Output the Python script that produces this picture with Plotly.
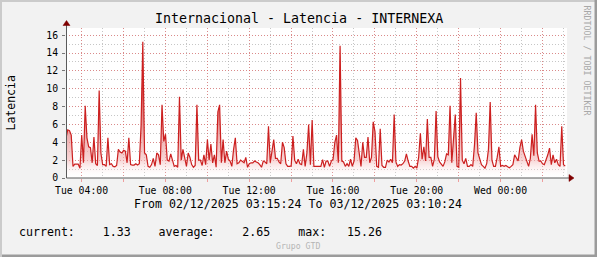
import pandas as pd
import plotly.graph_objects as go

# ---------------- data (5-minute samples, latency) ----------------
values = [
    4.5, 5.4, 5.3, 4.8, 1.3, 1.55, 1.55, 1.55, 1.1, 4.8,
    1.7, 8.1, 4.5, 3.5, 3.4, 1.7, 4.6, 1.6, 1.4, 9.8,
    2.8, 1.5, 1.5, 1.3, 4.5, 1.5, 1.6, 1.3, 1.25, 1.4,
    3.2, 2.9, 2.8, 3.1, 3.0, 1.7, 4.5, 1.5, 1.45, 1.45,
    1.6, 1.45, 1.6, 5.85, 15.26, 2.8, 2.6, 1.3, 1.2, 1.5,
    2.2, 1.3, 2.8, 2.6, 1.5, 8.2, 4.1, 4.9, 2.0, 1.9,
    2.7, 1.9, 1.3, 1.4, 1.2, 9.1, 2.0, 3.2, 2.4, 1.3,
    2.8, 2.3, 1.5, 1.2, 1.4, 8.2, 2.0, 2.0, 1.4, 2.6,
    1.5, 4.3, 2.0, 3.8, 1.7, 2.6, 1.2, 7.4, 8.2, 1.7,
    4.3, 1.7, 3.0, 2.1, 1.9, 1.3, 3.2, 4.5, 1.6, 1.7,
    2.0, 1.8, 1.7, 2.3, 1.2, 1.6, 1.7, 1.7, 1.9, 1.8,
    1.7, 1.5, 1.2, 1.9, 1.8, 1.6, 5.8, 1.7, 3.0, 4.3,
    2.2, 2.2, 1.8, 1.6, 4.0, 3.4, 1.6, 1.3, 1.3, 1.35,
    4.7, 2.0, 1.6, 2.1, 1.6, 1.5, 3.2, 1.3, 2.8, 6.0,
    1.5, 6.5, 1.3, 1.3, 1.3, 1.3, 1.3, 2.05, 1.2, 1.9,
    1.9, 1.3, 1.9, 2.1, 4.0, 4.8, 1.7, 14.8, 1.9, 1.8,
    1.3, 1.6, 1.3, 2.1, 1.3, 1.9, 4.5, 4.2, 2.8, 1.3,
    4.0, 2.3, 2.3, 4.6, 1.7, 2.3, 6.3, 5.2, 1.3, 1.2,
    5.5, 1.4, 1.2, 1.2, 2.0, 1.8, 2.1, 1.7, 7.1, 1.8,
    1.3, 1.5, 1.45, 1.6, 1.9, 2.7, 1.9, 1.3, 1.3, 1.1,
    1.3, 1.1, 2.3, 5.0, 2.1, 3.5, 1.9, 6.6, 2.3, 2.3,
    1.3, 2.1, 7.5, 2.4, 1.8, 1.5, 1.3, 1.8, 2.7, 2.6,
    8.1, 1.7, 4.9, 7.1, 1.3, 1.2, 11.2, 2.0, 1.6, 2.2,
    1.3, 1.3, 1.5, 1.3, 3.7, 7.3, 2.8, 2.0, 1.5, 1.3,
    1.1, 1.6, 3.2, 8.5, 2.0, 1.3, 1.3, 2.3, 3.5, 1.3,
    1.4, 1.3, 1.4, 1.25, 1.15, 1.3, 1.5, 2.6, 2.2, 1.9,
    3.4, 4.3, 3.0, 2.4, 1.7, 1.3, 2.2, 4.9, 2.5, 8.2,
    2.8, 1.9, 1.9, 1.6, 1.5, 2.0, 2.6, 3.35, 1.5, 2.6,
    1.7, 2.1, 1.5, 1.3, 5.8, 1.5, 1.33,
]
start_time = "2025-12-02 03:15:24"
end_time = "2025-12-03 03:10:24"
times = pd.date_range(start_time, periods=len(values), freq="5min")

tick_times = ["2025-12-02 04:00", "2025-12-02 06:00", "2025-12-02 08:00",
              "2025-12-02 10:00", "2025-12-02 12:00", "2025-12-02 14:00",
              "2025-12-02 16:00", "2025-12-02 18:00", "2025-12-02 20:00",
              "2025-12-02 22:00", "2025-12-03 00:00", "2025-12-03 02:00"]
tick_text = ["Tue 04:00", "", "Tue 08:00", "", "Tue 12:00", "",
             "Tue 16:00", "", "Tue 20:00", "", "Wed 00:00", ""]
y_ticks = [0, 2, 4, 6, 8, 10, 12, 14, 16]

title = "Internacional - Latencia - INTERNEXA"
y_title = "Latencia"
period_text = "From 02/12/2025 03:15:24 To 03/12/2025 03:10:24"
legend_text = "current:    1.33    average:    2.65    max:   15.26"
footer_text = "Grupo GTD"
watermark = "RRDTOOL / TOBI OETIKER"

# ---------------- geometry ----------------
W, H = 597, 257
L, R, T, B = 66, 30, 28, 79
PW, PH = W - L - R, H - T - B
FONT = "DejaVu Sans Mono"


def px(x):
    return (x - L) / PW


def py(y):
    return (T + PH - y) / PH


fig = go.Figure()
fig.add_trace(go.Scatter(
    x=times, y=values, mode="lines",
    line=dict(color="#CC2020", width=1.2),
    fill="tozeroy",
    fillgradient=dict(
        type="vertical", start=0, stop=10,
        colorscale=[[0, "rgba(255,255,255,0)"],
                    [0.2, "rgba(242,180,180,0.55)"],
                    [1, "rgba(205,45,45,0.9)"]]),
    hoverinfo="skip", showlegend=False,
))

MGRID = "rgba(235,90,90,0.55)"
GRID = "rgba(160,160,160,0.6)"

fig.update_xaxes(
    range=[start_time, end_time], tickmode="array",
    tickvals=tick_times, ticktext=tick_text,
    showgrid=True, gridcolor=MGRID, griddash="1px,2px", gridwidth=1,
    ticks="outside", ticklen=3, tickcolor=MGRID,
    minor=dict(dtick=3600000, tick0="2025-12-02 00:00", showgrid=True,
               gridcolor=GRID, griddash="1px,2px", ticks=""),
    showline=False, zeroline=False,
    tickfont=dict(family=FONT, size=9.8, color="#000"),
    ticklabelstandoff=0,
)
fig.update_yaxes(
    range=[0, 16.8], tickmode="array", tickvals=y_ticks,
    showgrid=True, gridcolor=MGRID, griddash="1px,2px", gridwidth=1,
    ticks="outside", ticklen=3, tickcolor="#777",
    minor=dict(dtick=1, tick0=0, showgrid=True, gridcolor=GRID,
               griddash="1px,2px", ticks=""),
    showline=False, zeroline=False,
    tickfont=dict(family=FONT, size=9.8, color="#000"),
    ticklabelstandoff=2,
)

AX = "#5a5a5a"
ARROW = "#7F0000"
shapes = [
    # axes
    dict(type="line", xref="paper", yref="paper", x0=px(66.5), x1=px(570),
         y0=py(178), y1=py(178), line=dict(color=AX, width=1)),
    dict(type="line", xref="paper", yref="paper", x0=px(66.5), x1=px(66.5),
         y0=py(178), y1=py(24), line=dict(color=AX, width=1)),
    # arrows
    dict(type="path", xref="paper", yref="paper",
         path=f"M {px(569)},{py(174.5)} L {px(574)},{py(178)} L {px(569)},{py(181.5)} Z",
         fillcolor=ARROW, line=dict(color=ARROW, width=0.5)),
    dict(type="path", xref="paper", yref="paper",
         path=f"M {px(63)},{py(25.5)} L {px(66.5)},{py(20.5)} L {px(70)},{py(25.5)} Z",
         fillcolor=ARROW, line=dict(color=ARROW, width=0.5)),
    # frame shading
    dict(type="rect", xref="paper", yref="paper", x0=px(0), x1=px(W),
         y0=py(0), y1=py(2), fillcolor="#CBCBCB", line=dict(width=0)),
    dict(type="rect", xref="paper", yref="paper", x0=px(0), x1=px(2),
         y0=py(0), y1=py(H), fillcolor="#CBCBCB", line=dict(width=0)),
    dict(type="rect", xref="paper", yref="paper", x0=px(W - 2.5), x1=px(W),
         y0=py(0), y1=py(H), fillcolor="#9B9B9B", line=dict(width=0)),
    dict(type="rect", xref="paper", yref="paper", x0=px(2), x1=px(W),
         y0=py(H - 2.5), y1=py(H), fillcolor="#9B9B9B", line=dict(width=0)),
]
fig.update_layout(shapes=shapes)

ann = [
    dict(text=title, x=px(298.5), y=py(19), xanchor="center", yanchor="middle",
         font=dict(family=FONT, size=13.3, color="#000")),
    dict(text=y_title, x=px(10.5), y=py(103), textangle=-90,
         xanchor="center", yanchor="middle",
         font=dict(family=FONT, size=11.5, color="#000")),
    dict(text=period_text, x=px(298.3), y=py(204), xanchor="center", yanchor="middle",
         font=dict(family=FONT, size=11.6, color="#000")),
    dict(text=legend_text.replace(" ", "&nbsp;"), x=px(16.5), y=py(231.5),
         xanchor="left", yanchor="middle",
         font=dict(family=FONT, size=11.6, color="#000")),
    dict(text=footer_text, x=px(298), y=py(246), xanchor="center", yanchor="middle",
         font=dict(family=FONT, size=8.2, color="#B5B5B5")),
    dict(text=watermark, x=px(586.5), y=py(60), textangle=90,
         xanchor="center", yanchor="middle",
         font=dict(family=FONT, size=8.3, color="#A8A8A8")),
]
for a in ann:
    a.update(xref="paper", yref="paper", showarrow=False)
fig.update_layout(annotations=ann)

fig.update_layout(
    width=W, height=H, autosize=False,
    margin=dict(l=L, r=R, t=T, b=B, pad=0),
    paper_bgcolor="#F2F2F2", plot_bgcolor="#FFFFFF",
    showlegend=False,
)

fig.write_html("out.html", include_plotlyjs=True, full_html=True,
               config={"displayModeBar": False})
